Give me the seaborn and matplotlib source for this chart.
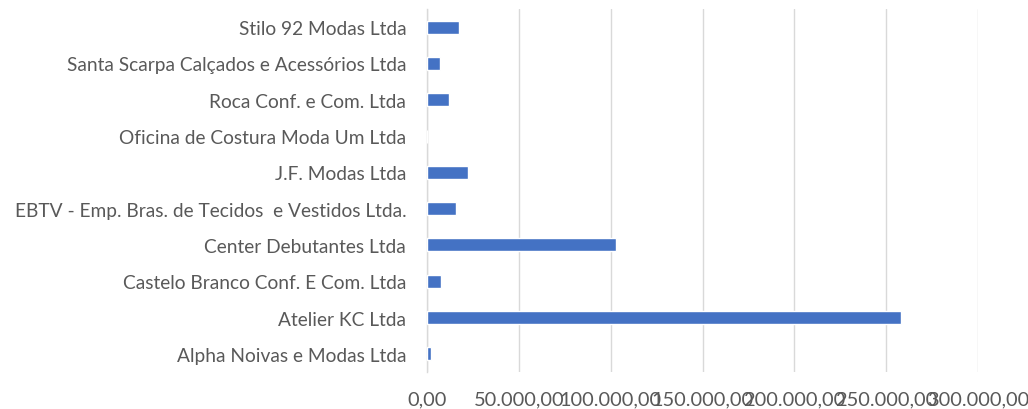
import matplotlib
matplotlib.use("Agg")
import matplotlib.pyplot as plt
from matplotlib.ticker import FuncFormatter, MultipleLocator
import seaborn as sns
import pandas as pd

# empresas, de cima para baixo
empresas = [
    "Stilo 92 Modas Ltda",
    "Santa Scarpa Calçados e Acessórios Ltda",
    "Roca Conf. e Com. Ltda",
    "Oficina de Costura Moda Um Ltda",
    "J.F. Modas Ltda",
    "EBTV - Emp. Bras. de Tecidos  e Vestidos Ltda.",
    "Center Debutantes Ltda",
    "Castelo Branco Conf. E Com. Ltda",
    "Atelier KC Ltda",
    "Alpha Noivas e Modas Ltda",
]
valores = [17400, 7000, 12200, 0, 22400, 15900, 102800, 7800, 258300, 2200]

df = pd.DataFrame({"empresa": empresas, "valor": valores})

sns.set_style("white")
plt.rcParams["font.family"] = ["Lato", "DejaVu Sans"]

fig = plt.figure(figsize=(10.28, 4.10), dpi=100)
ax = fig.add_axes([427 / 1028, 1 - 373 / 410, (978 - 427) / 1028, 363 / 410])

sns.barplot(data=df, x="valor", y="empresa", orient="h", color="#4472C4",
            saturation=1, width=0.36, ax=ax, zorder=3)

ax.set_xlim(0, 300000)
ax.set_ylim(9.5, -0.5)
ax.xaxis.set_major_locator(MultipleLocator(50000))


def fmt_br(v, pos):
    s = f"{v:,.2f}"
    return s.replace(",", "X").replace(".", ",").replace("X", ".")


ax.xaxis.set_major_formatter(FuncFormatter(fmt_br))
ax.grid(axis="x", color="#d9d9d9", linewidth=1, zorder=0)
ax.grid(axis="y", visible=False)

for s in ["top", "right", "bottom"]:
    ax.spines[s].set_visible(False)
ax.spines["left"].set_color("#d9d9d9")
ax.spines["left"].set_linewidth(1)

ax.tick_params(axis="both", length=0, labelcolor="#595959")
ax.tick_params(axis="x", pad=13, labelsize=14.4)
ax.tick_params(axis="y", pad=15, labelsize=13.8)
ax.set_xlabel("")
ax.set_ylabel("")

fig.savefig("out.png", dpi=100)
